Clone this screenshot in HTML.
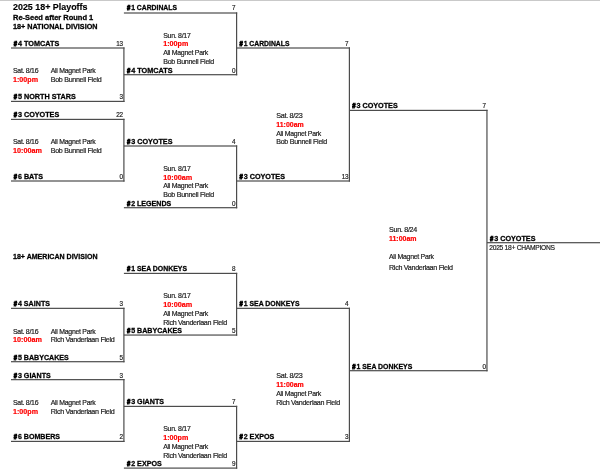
<!DOCTYPE html>
<html lang="en"><head><meta charset="utf-8"><title>2025 18+ Playoffs</title>
<style>
html,body{margin:0;padding:0;background:#fff;}
body{width:600px;height:471px;position:relative;overflow:hidden;font-family:"Liberation Sans","DejaVu Sans",sans-serif;}
svg{position:absolute;left:0;top:0;}
#tx{position:absolute;left:0;top:0;width:600px;height:471px;filter:blur(0.3px);}
.t{position:absolute;left:0;top:0;white-space:pre;line-height:10px;height:10px;transform-origin:0 0;color:#1c1c1c;}
.r{font-size:7.4px;letter-spacing:-0.3px;-webkit-text-stroke:0.2px #1c1c1c;}
.b{font-size:7.4px;font-weight:bold;color:#000;-webkit-text-stroke:0.28px #000;}
.h{font-size:6.4px;font-weight:bold;color:#000;-webkit-text-stroke:0.75px #000;}
.red{font-size:7.4px;font-weight:bold;color:#f00;-webkit-text-stroke:0.2px #f00;}
.title{font-size:8.4px;font-weight:bold;color:#000;-webkit-text-stroke:0.15px #000;}
</style></head>
<body>
<svg width="600" height="471" viewBox="0 0 600 471">
<rect x="0" y="0" width="600" height="1" fill="#c9c9c9"/>
<rect x="11.00" y="47.40" width="113.50" height="1.20" fill="#4c4c4c"/>
<rect x="11.00" y="100.80" width="113.50" height="1.20" fill="#4c4c4c"/>
<rect x="11.00" y="118.80" width="113.50" height="1.20" fill="#4c4c4c"/>
<rect x="11.00" y="180.40" width="113.50" height="1.20" fill="#4c4c4c"/>
<rect x="11.00" y="307.75" width="113.50" height="1.20" fill="#4c4c4c"/>
<rect x="11.00" y="361.10" width="113.50" height="1.20" fill="#4c4c4c"/>
<rect x="11.00" y="379.05" width="113.50" height="1.20" fill="#4c4c4c"/>
<rect x="11.00" y="440.80" width="113.50" height="1.20" fill="#4c4c4c"/>
<rect x="123.90" y="12.40" width="113.30" height="1.20" fill="#4c4c4c"/>
<rect x="123.90" y="74.10" width="113.30" height="1.20" fill="#4c4c4c"/>
<rect x="123.90" y="145.40" width="113.30" height="1.20" fill="#4c4c4c"/>
<rect x="123.90" y="207.10" width="113.30" height="1.20" fill="#4c4c4c"/>
<rect x="123.90" y="272.80" width="113.30" height="1.20" fill="#4c4c4c"/>
<rect x="123.90" y="334.45" width="113.30" height="1.20" fill="#4c4c4c"/>
<rect x="123.90" y="405.80" width="113.30" height="1.20" fill="#4c4c4c"/>
<rect x="123.90" y="467.50" width="113.30" height="1.20" fill="#4c4c4c"/>
<rect x="236.60" y="47.40" width="113.40" height="1.20" fill="#4c4c4c"/>
<rect x="236.60" y="180.40" width="113.40" height="1.20" fill="#4c4c4c"/>
<rect x="236.60" y="307.75" width="113.40" height="1.20" fill="#4c4c4c"/>
<rect x="236.60" y="440.80" width="113.40" height="1.20" fill="#4c4c4c"/>
<rect x="349.40" y="109.80" width="138.15" height="1.20" fill="#4c4c4c"/>
<rect x="349.40" y="370.10" width="138.15" height="1.20" fill="#4c4c4c"/>
<rect x="486.95" y="242.10" width="113.65" height="1.20" fill="#4c4c4c"/>
<rect x="123.30" y="47.40" width="1.20" height="54.60" fill="#4c4c4c"/>
<rect x="123.30" y="118.80" width="1.20" height="62.80" fill="#4c4c4c"/>
<rect x="123.30" y="307.75" width="1.20" height="54.55" fill="#4c4c4c"/>
<rect x="123.30" y="379.05" width="1.20" height="62.95" fill="#4c4c4c"/>
<rect x="236.00" y="12.40" width="1.20" height="62.90" fill="#4c4c4c"/>
<rect x="236.00" y="145.40" width="1.20" height="62.90" fill="#4c4c4c"/>
<rect x="236.00" y="272.80" width="1.20" height="62.85" fill="#4c4c4c"/>
<rect x="236.00" y="405.80" width="1.20" height="62.90" fill="#4c4c4c"/>
<rect x="348.80" y="47.40" width="1.20" height="134.20" fill="#4c4c4c"/>
<rect x="348.80" y="307.75" width="1.20" height="134.25" fill="#4c4c4c"/>
<rect x="486.35" y="109.80" width="1.20" height="261.50" fill="#4c4c4c"/>
</svg>
<div id="tx">
<div class="t title" style="transform:translate(13.00px,2.00px) scaleX(1.0631)">2025 18+ Playoffs</div>
<div class="t b" style="transform:translate(13.00px,13.00px) scaleX(1.0124)">Re-Seed after Round 1</div>
<div class="t b" style="transform:translate(13.00px,22.00px) scaleX(0.9758)">18+ NATIONAL DIVISION</div>
<div class="t b" style="transform:translate(13.00px,252.00px) scaleX(0.9533)">18+ AMERICAN DIVISION</div>
<div class="t h" style="transform:translate(126.95px,3.00px) scaleX(0.9263)">#</div>
<div class="t b" style="transform:translate(131.15px,3.00px) scaleX(0.9228)">1 CARDINALS</div>
<div class="t r" style="transform:translate(232.12px,3.00px) scaleX(0.8600)">7</div>
<div class="t h" style="transform:translate(13.70px,39.00px) scaleX(0.9263)">#</div>
<div class="t b" style="transform:translate(17.90px,39.00px) scaleX(0.9838)">4 TOMCATS</div>
<div class="t r" style="transform:translate(116.24px,39.00px) scaleX(0.8600)">13</div>
<div class="t h" style="transform:translate(239.45px,39.00px) scaleX(0.9263)">#</div>
<div class="t b" style="transform:translate(243.65px,39.00px) scaleX(0.9228)">1 CARDINALS</div>
<div class="t r" style="transform:translate(345.12px,39.00px) scaleX(0.8600)">7</div>
<div class="t h" style="transform:translate(126.95px,66.00px) scaleX(0.9263)">#</div>
<div class="t b" style="transform:translate(131.15px,66.00px) scaleX(0.9838)">4 TOMCATS</div>
<div class="t r" style="transform:translate(232.12px,66.00px) scaleX(0.8600)">0</div>
<div class="t h" style="transform:translate(13.70px,92.00px) scaleX(0.9263)">#</div>
<div class="t b" style="transform:translate(17.90px,92.00px) scaleX(0.9805)">5 NORTH STARS</div>
<div class="t r" style="transform:translate(119.52px,92.00px) scaleX(0.8600)">3</div>
<div class="t h" style="transform:translate(352.20px,101.00px) scaleX(0.9263)">#</div>
<div class="t b" style="transform:translate(356.40px,101.00px) scaleX(0.9773)">3 COYOTES</div>
<div class="t r" style="transform:translate(482.62px,101.00px) scaleX(0.8600)">7</div>
<div class="t h" style="transform:translate(13.70px,110.00px) scaleX(0.9263)">#</div>
<div class="t b" style="transform:translate(17.90px,110.00px) scaleX(0.9773)">3 COYOTES</div>
<div class="t r" style="transform:translate(116.24px,110.00px) scaleX(0.8600)">22</div>
<div class="t h" style="transform:translate(126.95px,137.00px) scaleX(0.9263)">#</div>
<div class="t b" style="transform:translate(131.15px,137.00px) scaleX(0.9773)">3 COYOTES</div>
<div class="t r" style="transform:translate(232.12px,137.00px) scaleX(0.8600)">4</div>
<div class="t h" style="transform:translate(13.70px,172.00px) scaleX(0.9263)">#</div>
<div class="t b" style="transform:translate(17.90px,172.00px) scaleX(0.9753)">6 BATS</div>
<div class="t r" style="transform:translate(119.52px,172.00px) scaleX(0.8600)">0</div>
<div class="t h" style="transform:translate(239.45px,172.00px) scaleX(0.9263)">#</div>
<div class="t b" style="transform:translate(243.65px,172.00px) scaleX(0.9773)">3 COYOTES</div>
<div class="t r" style="transform:translate(341.84px,172.00px) scaleX(0.8600)">13</div>
<div class="t h" style="transform:translate(126.95px,199.00px) scaleX(0.9263)">#</div>
<div class="t b" style="transform:translate(131.15px,199.00px) scaleX(0.9573)">2 LEGENDS</div>
<div class="t r" style="transform:translate(232.12px,199.00px) scaleX(0.8600)">0</div>
<div class="t h" style="transform:translate(489.95px,234.00px) scaleX(0.9263)">#</div>
<div class="t b" style="transform:translate(494.15px,234.00px) scaleX(0.9773)">3 COYOTES</div>
<div class="t r" style="transform:translate(489.25px,243.00px) scaleX(0.9040)">2025 18+ CHAMPIONS</div>
<div class="t r" style="transform:translate(163.25px,31.00px) scaleX(0.9412)">Sun. 8/17</div>
<div class="t red" style="transform:translate(163.25px,39.00px) scaleX(0.9656)">1:00pm</div>
<div class="t r" style="transform:translate(163.25px,48.00px) scaleX(0.9387)">Ali Magnet Park</div>
<div class="t r" style="transform:translate(163.25px,57.00px) scaleX(0.9604)">Bob Bunnell Field</div>
<div class="t r" style="transform:translate(13.00px,66.00px) scaleX(0.9390)">Sat. 8/16</div>
<div class="t r" style="transform:translate(50.75px,66.00px) scaleX(0.9387)">Ali Magnet Park</div>
<div class="t red" style="transform:translate(13.00px,75.00px) scaleX(0.9656)">1:00pm</div>
<div class="t r" style="transform:translate(50.75px,75.00px) scaleX(0.9604)">Bob Bunnell Field</div>
<div class="t r" style="transform:translate(276.25px,111.00px) scaleX(0.9762)">Sat. 8/23</div>
<div class="t red" style="transform:translate(276.25px,120.00px) scaleX(0.9422)">11:00am</div>
<div class="t r" style="transform:translate(276.25px,129.00px) scaleX(0.9387)">Ali Magnet Park</div>
<div class="t r" style="transform:translate(276.25px,137.00px) scaleX(0.9604)">Bob Bunnell Field</div>
<div class="t r" style="transform:translate(13.00px,137.00px) scaleX(0.9390)">Sat. 8/16</div>
<div class="t r" style="transform:translate(50.75px,137.00px) scaleX(0.9387)">Ali Magnet Park</div>
<div class="t red" style="transform:translate(13.00px,146.00px) scaleX(0.9799)">10:00am</div>
<div class="t r" style="transform:translate(50.75px,146.00px) scaleX(0.9604)">Bob Bunnell Field</div>
<div class="t r" style="transform:translate(163.25px,164.00px) scaleX(0.9412)">Sun. 8/17</div>
<div class="t red" style="transform:translate(163.25px,173.00px) scaleX(0.9799)">10:00am</div>
<div class="t r" style="transform:translate(163.25px,181.00px) scaleX(0.9387)">Ali Magnet Park</div>
<div class="t r" style="transform:translate(163.25px,190.00px) scaleX(0.9604)">Bob Bunnell Field</div>
<div class="t r" style="transform:translate(389.00px,225.00px) scaleX(0.9671)">Sun. 8/24</div>
<div class="t red" style="transform:translate(389.00px,234.00px) scaleX(0.9422)">11:00am</div>
<div class="t r" style="transform:translate(389.00px,252.00px) scaleX(0.9387)">Ali Magnet Park</div>
<div class="t r" style="transform:translate(389.00px,263.00px) scaleX(0.9677)">Rich Vanderlaan Field</div>
<div class="t h" style="transform:translate(126.95px,264.00px) scaleX(0.9263)">#</div>
<div class="t b" style="transform:translate(131.15px,264.00px) scaleX(0.9355)">1 SEA DONKEYS</div>
<div class="t r" style="transform:translate(232.12px,264.00px) scaleX(0.8600)">8</div>
<div class="t h" style="transform:translate(13.70px,299.00px) scaleX(0.9263)">#</div>
<div class="t b" style="transform:translate(17.90px,299.00px) scaleX(0.9650)">4 SAINTS</div>
<div class="t r" style="transform:translate(119.52px,299.00px) scaleX(0.8600)">3</div>
<div class="t h" style="transform:translate(239.45px,299.00px) scaleX(0.9263)">#</div>
<div class="t b" style="transform:translate(243.65px,299.00px) scaleX(0.9355)">1 SEA DONKEYS</div>
<div class="t r" style="transform:translate(345.12px,299.00px) scaleX(0.8600)">4</div>
<div class="t h" style="transform:translate(126.95px,326.00px) scaleX(0.9263)">#</div>
<div class="t b" style="transform:translate(131.15px,326.00px) scaleX(0.9597)">5 BABYCAKES</div>
<div class="t r" style="transform:translate(232.12px,326.00px) scaleX(0.8600)">5</div>
<div class="t h" style="transform:translate(13.70px,353.00px) scaleX(0.9263)">#</div>
<div class="t b" style="transform:translate(17.90px,353.00px) scaleX(0.9597)">5 BABYCAKES</div>
<div class="t r" style="transform:translate(119.52px,353.00px) scaleX(0.8600)">5</div>
<div class="t h" style="transform:translate(352.20px,362.00px) scaleX(0.9263)">#</div>
<div class="t b" style="transform:translate(356.40px,362.00px) scaleX(0.9355)">1 SEA DONKEYS</div>
<div class="t r" style="transform:translate(482.62px,362.00px) scaleX(0.8600)">0</div>
<div class="t h" style="transform:translate(13.70px,371.00px) scaleX(0.9263)">#</div>
<div class="t b" style="transform:translate(17.90px,371.00px) scaleX(0.9635)">3 GIANTS</div>
<div class="t r" style="transform:translate(119.52px,371.00px) scaleX(0.8600)">3</div>
<div class="t h" style="transform:translate(126.95px,397.00px) scaleX(0.9263)">#</div>
<div class="t b" style="transform:translate(131.15px,397.00px) scaleX(0.9635)">3 GIANTS</div>
<div class="t r" style="transform:translate(232.12px,397.00px) scaleX(0.8600)">7</div>
<div class="t h" style="transform:translate(13.70px,432.00px) scaleX(0.9263)">#</div>
<div class="t b" style="transform:translate(17.90px,432.00px) scaleX(0.9578)">6 BOMBERS</div>
<div class="t r" style="transform:translate(119.52px,432.00px) scaleX(0.8600)">2</div>
<div class="t h" style="transform:translate(239.45px,432.00px) scaleX(0.9263)">#</div>
<div class="t b" style="transform:translate(243.65px,432.00px) scaleX(0.9671)">2 EXPOS</div>
<div class="t r" style="transform:translate(345.12px,432.00px) scaleX(0.8600)">3</div>
<div class="t h" style="transform:translate(126.95px,459.00px) scaleX(0.9263)">#</div>
<div class="t b" style="transform:translate(131.15px,459.00px) scaleX(0.9671)">2 EXPOS</div>
<div class="t r" style="transform:translate(232.12px,459.00px) scaleX(0.8600)">9</div>
<div class="t r" style="transform:translate(163.25px,291.00px) scaleX(0.9412)">Sun. 8/17</div>
<div class="t red" style="transform:translate(163.25px,300.00px) scaleX(0.9799)">10:00am</div>
<div class="t r" style="transform:translate(163.25px,309.00px) scaleX(0.9387)">Ali Magnet Park</div>
<div class="t r" style="transform:translate(163.25px,318.00px) scaleX(0.9677)">Rich Vanderlaan Field</div>
<div class="t r" style="transform:translate(13.00px,327.00px) scaleX(0.9390)">Sat. 8/16</div>
<div class="t r" style="transform:translate(50.75px,327.00px) scaleX(0.9387)">Ali Magnet Park</div>
<div class="t red" style="transform:translate(13.00px,335.00px) scaleX(0.9799)">10:00am</div>
<div class="t r" style="transform:translate(50.75px,335.00px) scaleX(0.9677)">Rich Vanderlaan Field</div>
<div class="t r" style="transform:translate(276.25px,371.00px) scaleX(0.9762)">Sat. 8/23</div>
<div class="t red" style="transform:translate(276.25px,380.00px) scaleX(0.9422)">11:00am</div>
<div class="t r" style="transform:translate(276.25px,389.00px) scaleX(0.9387)">Ali Magnet Park</div>
<div class="t r" style="transform:translate(276.25px,398.00px) scaleX(0.9677)">Rich Vanderlaan Field</div>
<div class="t r" style="transform:translate(13.00px,398.00px) scaleX(0.9390)">Sat. 8/16</div>
<div class="t r" style="transform:translate(50.75px,398.00px) scaleX(0.9387)">Ali Magnet Park</div>
<div class="t red" style="transform:translate(13.00px,407.00px) scaleX(0.9656)">1:00pm</div>
<div class="t r" style="transform:translate(50.75px,407.00px) scaleX(0.9677)">Rich Vanderlaan Field</div>
<div class="t r" style="transform:translate(163.25px,424.00px) scaleX(0.9412)">Sun. 8/17</div>
<div class="t red" style="transform:translate(163.25px,433.00px) scaleX(0.9656)">1:00pm</div>
<div class="t r" style="transform:translate(163.25px,442.00px) scaleX(0.9387)">Ali Magnet Park</div>
<div class="t r" style="transform:translate(163.25px,451.00px) scaleX(0.9677)">Rich Vanderlaan Field</div>
</div>
</body></html>
